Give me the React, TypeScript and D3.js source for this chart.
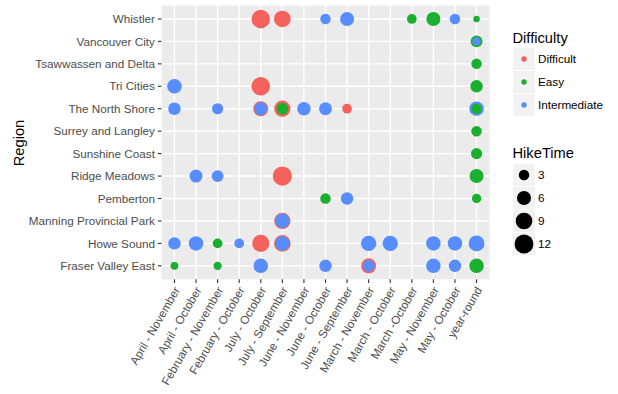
import React from "react";
import * as d3 from "d3";

// categories (regions listed top to bottom)
const regions = [
  "Whistler",
  "Vancouver City",
  "Tsawwassen and Delta",
  "Tri Cities",
  "The North Shore",
  "Surrey and Langley",
  "Sunshine Coast",
  "Ridge Meadows",
  "Pemberton",
  "Manning Provincial Park",
  "Howe Sound",
  "Fraser Valley East",
];

const seasons = [
  "April - November",
  "April - October",
  "February - November",
  "February - October",
  "July - October",
  "July - September",
  "June - November",
  "June - October",
  "June - September",
  "March - November",
  "March - October",
  "March -October",
  "May - November",
  "May - October",
  "year-round",
];

const difficulties = ["Difficult", "Easy", "Intermediate"];
const difficultyColors = ["#F5615C", "#1AAF2E", "#578DFF"];
const hikeTimeBreaks = [3, 6, 9, 12];
const hikeTimeLimits = [0.5, 12.5];

// one entry per hike (drawn in this order)
const hikeRegion = [
  "Whistler", "Whistler", "Whistler", "Whistler", "Whistler", "Whistler", "Whistler", "Whistler",
  "Vancouver City", "Vancouver City",
  "Tsawwassen and Delta",
  "Tri Cities", "Tri Cities", "Tri Cities",
  "The North Shore", "The North Shore", "The North Shore", "The North Shore", "The North Shore",
  "The North Shore", "The North Shore", "The North Shore", "The North Shore", "The North Shore", "The North Shore",
  "Surrey and Langley",
  "Sunshine Coast",
  "Ridge Meadows", "Ridge Meadows", "Ridge Meadows", "Ridge Meadows",
  "Pemberton", "Pemberton", "Pemberton",
  "Manning Provincial Park", "Manning Provincial Park",
  "Howe Sound", "Howe Sound", "Howe Sound", "Howe Sound", "Howe Sound", "Howe Sound",
  "Howe Sound", "Howe Sound", "Howe Sound", "Howe Sound", "Howe Sound", "Howe Sound",
  "Fraser Valley East", "Fraser Valley East", "Fraser Valley East", "Fraser Valley East", "Fraser Valley East",
  "Fraser Valley East", "Fraser Valley East", "Fraser Valley East", "Fraser Valley East",
];
const hikeSeason = [
  "July - October", "July - September", "June - October", "June - September", "March -October", "May - November", "May - October", "year-round",
  "year-round", "year-round",
  "year-round",
  "April - November", "July - October", "year-round",
  "April - November", "February - November", "July - October", "July - October", "July - September",
  "July - September", "June - November", "June - October", "June - September", "year-round", "year-round",
  "year-round",
  "year-round",
  "April - October", "February - November", "July - September", "year-round",
  "June - October", "June - September", "year-round",
  "July - September", "July - September",
  "April - November", "April - October", "February - November", "February - October", "July - October", "July - September",
  "July - September", "March - November", "March - October", "May - November", "May - October", "year-round",
  "April - November", "February - November", "July - October", "June - October", "March - November",
  "March - November", "May - November", "May - October", "year-round",
];
const hikeDifficulty = [
  "Difficult", "Difficult", "Intermediate", "Intermediate", "Easy", "Easy", "Intermediate", "Easy",
  "Easy", "Intermediate",
  "Easy",
  "Intermediate", "Difficult", "Easy",
  "Intermediate", "Intermediate", "Difficult", "Intermediate", "Difficult",
  "Easy", "Intermediate", "Intermediate", "Difficult", "Intermediate", "Easy",
  "Easy",
  "Easy",
  "Intermediate", "Intermediate", "Difficult", "Easy",
  "Easy", "Intermediate", "Easy",
  "Difficult", "Intermediate",
  "Intermediate", "Intermediate", "Easy", "Intermediate", "Difficult", "Difficult",
  "Intermediate", "Intermediate", "Intermediate", "Intermediate", "Intermediate", "Intermediate",
  "Easy", "Easy", "Intermediate", "Intermediate", "Difficult",
  "Intermediate", "Intermediate", "Intermediate", "Easy",
];
const hikeTime = [
  11.5, 9, 3, 6, 2.5, 6, 3, 1,
  4, 1.75,
  3,
  6.5, 11.5, 4.5,
  4.5, 3.5, 7, 5, 8.5,
  4, 5.5, 5, 2.5, 6.5, 3,
  3,
  3.5,
  5, 4, 12.5, 6,
  3, 4.5, 2.25,
  8.5, 6.5,
  4.5, 6.5, 2.5, 2.5, 9.5, 9,
  6.5, 7.5, 7.5, 6.5, 6.5, 8,
  1.5, 1.75, 6.5, 4.5, 7,
  4, 6.5, 4.5, 6.5,
];

const W = 618;
const H = 394;
const panel = { left: 161.5, right: 489.5, top: 5.5, bottom: 279.3 };
const font = "'Liberation Sans', Arial, Helvetica, sans-serif";

export default function App() {
  const x = d3.scalePoint().domain(seasons).range([panel.left, panel.right]).padding(0.6);
  const y = d3.scalePoint().domain(regions).range([panel.top, panel.bottom]).padding(0.6);
  const t = d3.scaleLinear().domain(hikeTimeLimits).range([0, 1]).clamp(true);
  const radius = (v: number) => 1.6 + 8 * Math.sqrt(t(v));
  const color = d3.scaleOrdinal<string, string>().domain(difficulties).range(difficultyColors);

  const legendX = 512.5;
  const keySize = 23;

  return (
    <svg
      width={W}
      height={H}
      style={{ position: "absolute", left: 0, top: 0, background: "#fff" }}
      fontFamily={font}
    >
      <rect x={panel.left} y={panel.top} width={panel.right - panel.left} height={panel.bottom - panel.top} fill="#EBEBEB" />
      {/* grid */}
      {seasons.map((s) => (
        <line key={s} x1={x(s)} x2={x(s)} y1={panel.top} y2={panel.bottom} stroke="#fff" strokeWidth={1.4} />
      ))}
      {regions.map((r) => (
        <line key={r} y1={y(r)} y2={y(r)} x1={panel.left} x2={panel.right} stroke="#fff" strokeWidth={1.4} />
      ))}

      {/* points */}
      {hikeTime.map((v, i) => (
        <circle
          key={i}
          cx={x(hikeSeason[i])}
          cy={y(hikeRegion[i])}
          r={radius(v)}
          fill={color(hikeDifficulty[i])}
        />
      ))}

      {/* y axis */}
      {regions.map((r) => (
        <g key={r} transform={`translate(0,${y(r)})`}>
          <line x1={panel.left - 3.7} x2={panel.left} stroke="#333" strokeWidth={1.1} />
          <text x={panel.left - 6.6} dy="0.35em" textAnchor="end" fontSize={11.7} fill="#4D4D4D">
            {r}
          </text>
        </g>
      ))}
      <text transform={`translate(24,143) rotate(-90)`} textAnchor="middle" fontSize={14.7} fill="#000">
        Region
      </text>

      {/* x axis */}
      {seasons.map((s) => (
        <g key={s} transform={`translate(${x(s)},0)`}>
          <line y1={panel.bottom} y2={panel.bottom + 3.7} stroke="#333" strokeWidth={1.1} />
          <text
            transform={`translate(6,${panel.bottom + 10.5}) rotate(-60)`}
            textAnchor="end"
            fontSize={11.7}
            fill="#4D4D4D"
          >
            {s}
          </text>
        </g>
      ))}

      {/* legend: Difficulty */}
      <text x={legendX} y={43} fontSize={14.7} fill="#000">
        Difficulty
      </text>
      {difficulties.map((d, i) => {
        const cy = 59 + i * keySize;
        return (
          <g key={d}>
            <rect x={legendX} y={cy - keySize / 2} width={keySize} height={keySize} fill="#F2F2F2" stroke="#fff" strokeWidth={1} />
            <circle cx={legendX + keySize / 2} cy={cy} r={2.7} fill={color(d)} />
            <text x={legendX + keySize + 2.5} y={cy} dy="0.35em" fontSize={11.7} fill="#000">
              {d}
            </text>
          </g>
        );
      })}

      {/* legend: HikeTime */}
      <text x={legendX} y={158} fontSize={14.7} fill="#000">
        HikeTime
      </text>
      {hikeTimeBreaks.map((b, i) => {
        const cy = 175 + i * keySize;
        return (
          <g key={b}>
            <rect x={legendX} y={cy - keySize / 2} width={keySize} height={keySize} fill="#F2F2F2" stroke="#fff" strokeWidth={1} />
            <circle cx={legendX + keySize / 2} cy={cy} r={radius(b)} fill="#000" />
            <text x={legendX + keySize + 2.5} y={cy} dy="0.35em" fontSize={11.7} fill="#000">
              {b}
            </text>
          </g>
        );
      })}
    </svg>
  );
}
